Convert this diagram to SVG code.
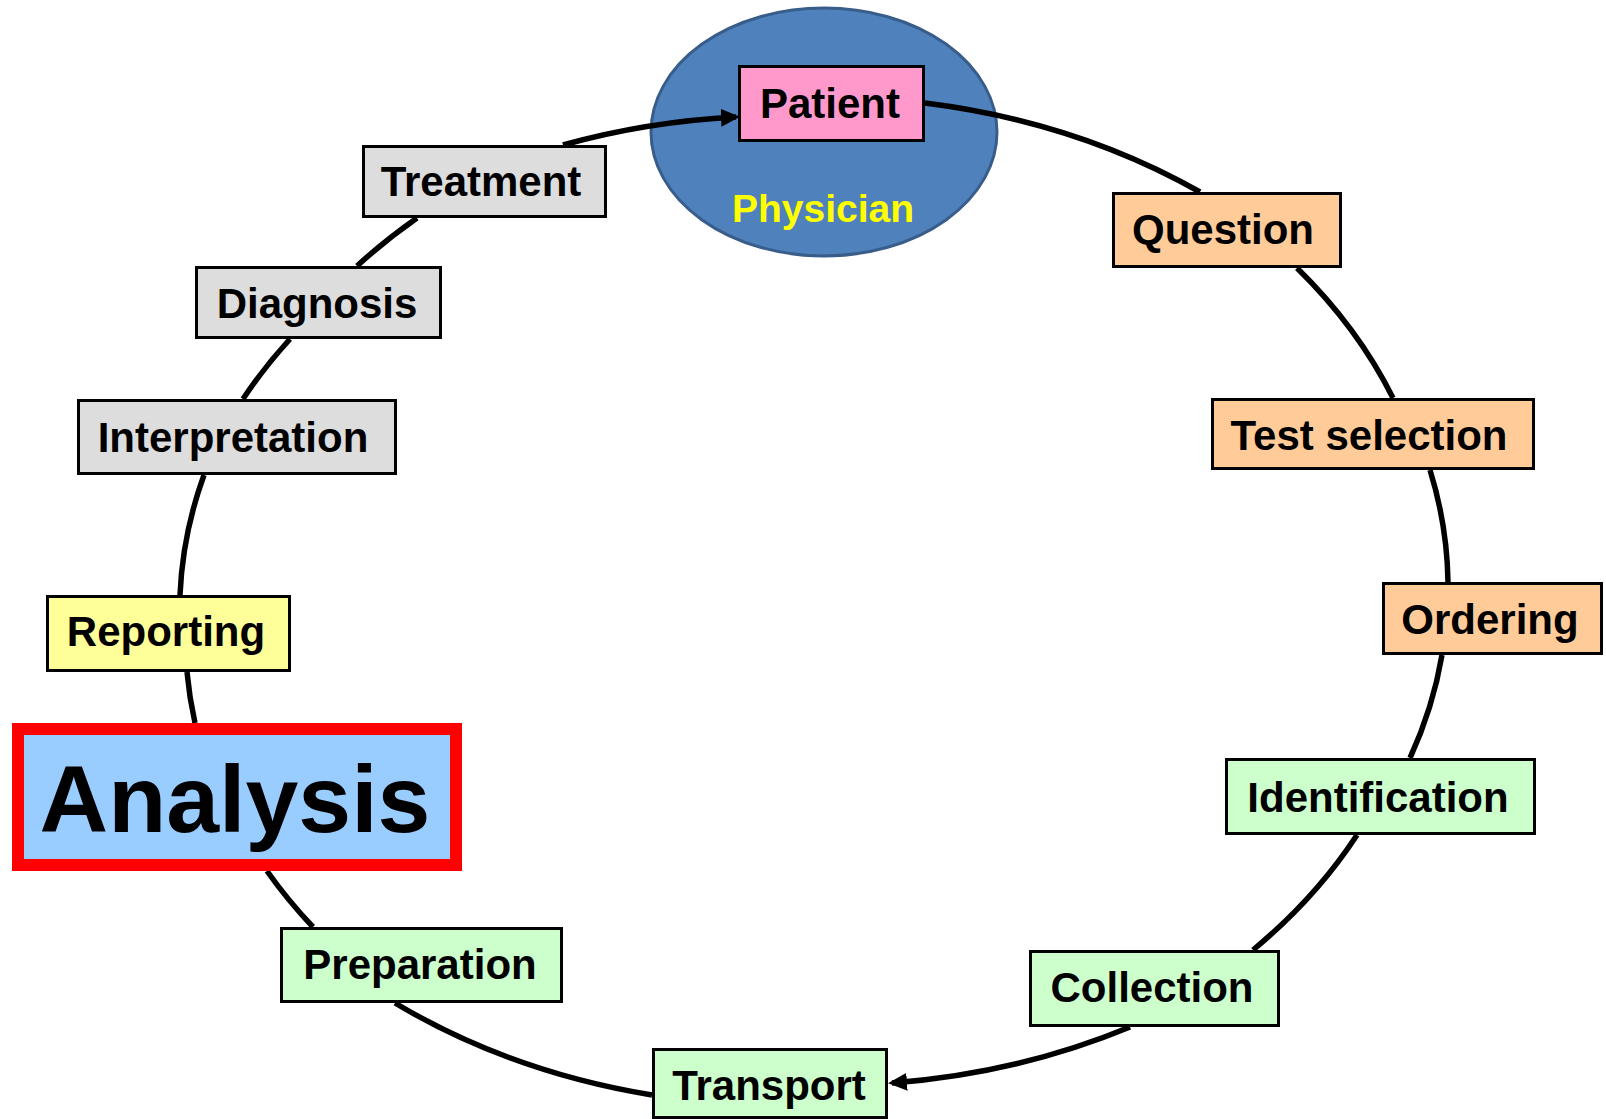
<svg xmlns="http://www.w3.org/2000/svg" width="1606" height="1119" viewBox="0 0 1606 1119">
<style>
.box{stroke:#000;stroke-width:3}
.lbl{font-family:"Liberation Sans",Arial,sans-serif;font-weight:bold;font-size:42px;fill:#000;text-anchor:middle}
.gray{fill:#DDDDDD}
.orange{fill:#FFCC99}
.green{fill:#CCFFCC}
.yellow{fill:#FFFF99}
.conn{fill:none;stroke:#000;stroke-width:5.5}
</style>
<defs>
<marker id="arrow" markerUnits="userSpaceOnUse" markerWidth="22" markerHeight="18" refX="15" refY="9" orient="auto">
<path d="M0,0 L19,9 L0,18 z" fill="#000"/>
</marker>
</defs>
<g id="physician">
<ellipse cx="824" cy="132" rx="173" ry="124" fill="#4F81BD" stroke="#385D8A" stroke-width="3"/>
<text x="823" y="222" style="font-family:'Liberation Sans',Arial,sans-serif;font-weight:bold;font-size:39px;fill:#FFFF00;text-anchor:middle">Physician</text>
</g>
<g id="connectors">
<path class="conn" marker-end="url(#arrow)" d="M925,103 A640 500 0 0 1 1200,192 M1297,268 A640 500 0 0 1 1393,398 M1430,470 A640 500 0 0 1 1448,582 M1442,655 A640 500 0 0 1 1410,758 M1357,835 A640 500 0 0 1 1253,950 M1130,1027 A640 500 0 0 1 892,1083"/>
<path class="conn" marker-end="url(#arrow)" d="M652,1095 A640 500 0 0 1 395,1003 M313,927 A640 500 0 0 1 267,871 M195,723 A640 500 0 0 1 187,672 M180,595 A640 500 0 0 1 204,475 M243,399 A640 500 0 0 1 290,339 M357,266 A640 500 0 0 1 417,218 M563,145 A640 500 0 0 1 736,117"/>
</g>
<g id="patient"><rect class="box" x="739.5" y="66.5" width="184" height="74" fill="#FF99CC"/><text class="lbl" x="830" y="118">Patient</text></g>
<g id="question"><rect class="box orange" x="1113.5" y="193.5" width="227" height="73"/><text class="lbl" x="1223" y="244">Question</text></g>
<g id="test-selection"><rect class="box orange" x="1212.5" y="399.5" width="321" height="69"/><text class="lbl" x="1369" y="450">Test selection</text></g>
<g id="ordering"><rect class="box orange" x="1383.5" y="583.5" width="218" height="70"/><text class="lbl" x="1490" y="634">Ordering</text></g>
<g id="identification"><rect class="box green" x="1226.5" y="759.5" width="308" height="74"/><text class="lbl" x="1378" y="812">Identification</text></g>
<g id="collection"><rect class="box green" x="1030.5" y="951.5" width="248" height="74"/><text class="lbl" x="1152" y="1002">Collection</text></g>
<g id="transport"><rect class="box green" x="653.5" y="1049.5" width="233" height="68"/><text class="lbl" x="769" y="1100">Transport</text></g>
<g id="preparation"><rect class="box green" x="281.5" y="928.5" width="280" height="73"/><text class="lbl" x="420" y="979">Preparation</text></g>
<g id="analysis"><rect x="18" y="729" width="438" height="136" fill="#99CCFF" stroke="#FF0000" stroke-width="12"/><text x="235" y="832" style="font-family:'Liberation Sans',Arial,sans-serif;font-weight:bold;font-size:95px;fill:#000;text-anchor:middle">Analysis</text></g>
<g id="reporting"><rect class="box yellow" x="47.5" y="596.5" width="242" height="74"/><text class="lbl" x="166" y="646">Reporting</text></g>
<g id="interpretation"><rect class="box gray" x="78.5" y="400.5" width="317" height="73"/><text class="lbl" x="233" y="452">Interpretation</text></g>
<g id="diagnosis"><rect class="box gray" x="196.5" y="267.5" width="244" height="70"/><text class="lbl" x="317" y="318">Diagnosis</text></g>
<g id="treatment"><rect class="box gray" x="363.5" y="146.5" width="242" height="70"/><text class="lbl" x="481" y="196">Treatment</text></g>
</svg>
